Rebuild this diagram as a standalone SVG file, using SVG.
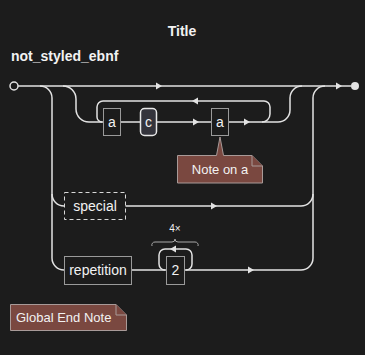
<svg xmlns="http://www.w3.org/2000/svg" width="365" height="355" viewBox="0 0 365 355">
<defs>
<style>
.bg{fill:#1c1c1c}
.ln{fill:none;stroke:#e2e2e2;stroke-width:1.5}
.box{fill:#1c1c1c;stroke:#9a9a9a;stroke-width:1}
.dash{fill:#1c1c1c;stroke:#d8d8d8;stroke-width:1;stroke-dasharray:4,3}
.nt{fill:#7a4840;stroke:#a89a98;stroke-width:1}
.t{font-family:"Liberation Sans",Arial,sans-serif;fill:#f2f2f2}
.b{font-weight:bold;font-size:14px}
.n{font-size:14px;text-anchor:middle}
.s{font-size:13px}
.arr{fill:#e2e2e2}
</style>
<path id="ar" d="M-3,-3.5 L3,0 L-3,3.5 Z"/>
</defs>
<rect class="bg" x="0" y="0" width="365" height="355"/>
<text class="t b" x="182" y="36" text-anchor="middle">Title</text>
<text class="t b" x="11" y="61">not_styled_ebnf</text>

<g id="connectors">
<path class="ln" d="M18,86 H351"/>
<path class="ln" d="M40,86 A12,12 0 0 1 52,98 V258 A12,12 0 0 0 64,270"/>
<path class="ln" d="M52,194 A12,12 0 0 0 64,206"/>
<path class="ln" d="M125,206 H301 A12,12 0 0 0 313,194"/>
<path class="ln" d="M132,270 H166 M185,270 H301 A12,12 0 0 0 313,258 V98 A12,12 0 0 1 325,86"/>
<path class="ln" d="M186,270 A6,6 0 0 0 192,264 V255 A6,6 0 0 0 186,249 H165 A6,6 0 0 0 159,255 V264 A6,6 0 0 0 165,270"/>
<path class="ln" d="M63,86 A13,13 0 0 1 76,99 V109 A13,13 0 0 0 89,122 H103 M121,122 H140 M157,122 H211 M229,122 H278 A12,12 0 0 0 290,110 V98 A12,12 0 0 1 302,86"/>
<path class="ln" d="M262,122 A8,8 0 0 0 270,114 V107 A6,6 0 0 0 264,101 H103 A6,6 0 0 0 97,107 V117 A5,5 0 0 0 102,122"/>
<use href="#ar" class="arr" transform="translate(159,86)"/>
<use href="#ar" class="arr" transform="translate(339,86)"/>
<use href="#ar" class="arr" transform="translate(196,122)"/>
<use href="#ar" class="arr" transform="translate(247,122)"/>
<use href="#ar" class="arr" transform="translate(195,101) rotate(180)"/>
<use href="#ar" class="arr" transform="translate(214,206)"/>
<use href="#ar" class="arr" transform="translate(251,270)"/>
<use href="#ar" class="arr" transform="translate(173,249) rotate(180)"/>
<circle cx="14" cy="86" r="4" fill="#1c1c1c" stroke="#e2e2e2" stroke-width="1.5"/>
<circle cx="355" cy="86" r="4" fill="#e2e2e2"/>
</g>

<g id="node-a1">
<rect class="box" x="103.5" y="108.5" width="17" height="27"/>
<text class="t n" x="112" y="127">a</text>
</g>
<g id="node-c">
<rect x="140.5" y="108.5" width="16" height="27" rx="4" fill="#34343c" stroke="#e8e8e8" stroke-width="1.5"/>
<text class="t n" x="148.5" y="127">c</text>
</g>
<g id="node-a2">
<rect class="box" x="211.5" y="108.5" width="17" height="27"/>
<text class="t n" x="220" y="127">a</text>
</g>
<g id="note-a">
<path class="nt" d="M177.5,155.5 H216.5 L220,137 L223.5,155.5 H252 L262.5,166 V183 H177.5 Z"/>
<path class="nt" d="M252,155.5 V166 H262.5"/>
<text class="t s" x="220" y="174" text-anchor="middle">Note on a</text>
</g>
<g id="node-special">
<rect class="dash" x="64.5" y="192.5" width="61" height="27"/>
<text class="t n" x="95" y="211">special</text>
</g>
<g id="node-repetition">
<rect class="box" x="64.5" y="256.5" width="67" height="28"/>
<text class="t n" x="98" y="275">repetition</text>
</g>
<g id="node-2">
<rect class="box" x="166.5" y="256.5" width="18" height="28"/>
<text class="t n" x="175.5" y="275">2</text>
</g>
<g id="repeat-label">
<path d="M152,246 A3,3 0 0 1 155,242 H172 A3,3 0 0 0 175,239 A3,3 0 0 0 178,242 H195 A3,3 0 0 1 198,246" fill="none" stroke="#a8a8a8" stroke-width="1"/>
<text class="t" x="175" y="232" font-size="10" text-anchor="middle">4×</text>
</g>
<g id="note-global">
<path class="nt" d="M10.5,304.5 H116 L126.5,315 V330.5 H10.5 Z"/>
<path class="nt" d="M116,304.5 V315 H126.5"/>
<text class="t s" x="16" y="322">Global End Note</text>
</g>
</svg>
